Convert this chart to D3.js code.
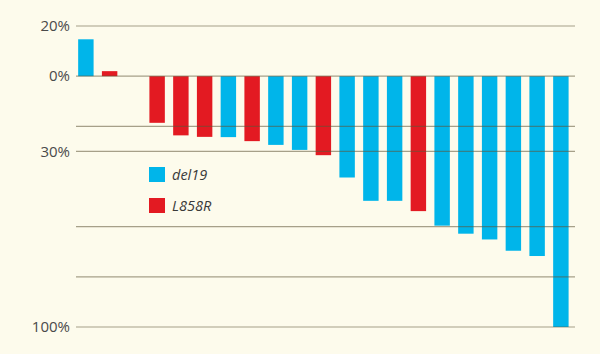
<!DOCTYPE html>
<html>
<head>
<meta charset="utf-8">
<script src="https://cdn.jsdelivr.net/npm/d3@7"></script>
<style>
html,body{margin:0;padding:0;background:#fdfbec;}
svg{display:block;}
</style>
</head>
<body>
<svg id="chart" width="600" height="354"></svg>
<script>
// Best percentage change per patient (positive = growth, negative = shrinkage)
const patients = d3.range(21);
const changes = [14.7, 2, null, -18.6, -23.6, -24.2, -24.3, -25.9, -27.4, -29.4, -31.5, -40.4, -49.7, -49.7, -53.8, -59.6, -62.8, -65.1, -69.6, -71.7, -100];
const mutation = ["del19","L858R",null,"L858R","L858R","L858R","del19","L858R","del19","del19","L858R","del19","del19","del19","L858R","del19","del19","del19","del19","del19","del19"];
const gridValues = [20, 0, -20, -30, -60, -80, -100];
const tickValues = [20, 0, -30, -100];
const tickLabels = ["20%", "0%", "30%", "100%"];
const legendKeys = ["del19", "L858R"];

const colors = {del19: "#00b5ea", L858R: "#e31a22"};

const svg = d3.select("#chart");
svg.append("rect").attr("width",600).attr("height",354).attr("fill","#fdfbec");

const y = d3.scaleLinear().domain([20, -100]).range([26, 327]);
const x = d3.scaleBand().domain(patients).range([74, 572.75]).paddingInner(0.35).paddingOuter(0.175);

// bars
svg.append("g").selectAll("rect")
  .data(patients.filter(i => changes[i] !== null))
  .join("rect")
  .attr("x", i => x(i))
  .attr("width", x.bandwidth())
  .attr("y", i => y(Math.max(0, changes[i])))
  .attr("height", i => Math.abs(y(changes[i]) - y(0)))
  .attr("fill", i => colors[mutation[i]]);

// gridlines on top
svg.append("g").selectAll("line")
  .data(gridValues)
  .join("line")
  .attr("x1", 76).attr("x2", 575)
  .attr("y1", d => y(d)).attr("y2", d => y(d))
  .attr("stroke", "#5e5638")
  .attr("stroke-opacity", 0.55)
  .attr("stroke-width", 1.2);

// axis labels
const axis = d3.axisLeft(y).tickValues(tickValues)
  .tickFormat(d => tickLabels[tickValues.indexOf(d)])
  .tickSize(0).tickPadding(0);
const ag = svg.append("g").attr("transform", "translate(70,0)").call(axis);
ag.select(".domain").remove();
ag.selectAll("text")
  .attr("font-family", "'Open Sans', sans-serif")
  .attr("font-size", 15)
  .attr("fill", "#4a4a4a")
  .attr("dy", "0.32em");

// legend
const lg = svg.append("g").selectAll("g")
  .data(legendKeys)
  .join("g")
  .attr("transform", (d, i) => `translate(149,${167 + i * 31})`);
lg.append("rect").attr("width", 16).attr("height", 15).attr("fill", d => colors[d]);
lg.append("text")
  .attr("x", 23).attr("y", 13)
  .attr("font-family", "'Open Sans', sans-serif")
  .attr("font-style", "italic")
  .attr("font-size", 14.5)
  .attr("fill", "#3a3a3a")
  .text(d => d);
</script>
</body>
</html>
